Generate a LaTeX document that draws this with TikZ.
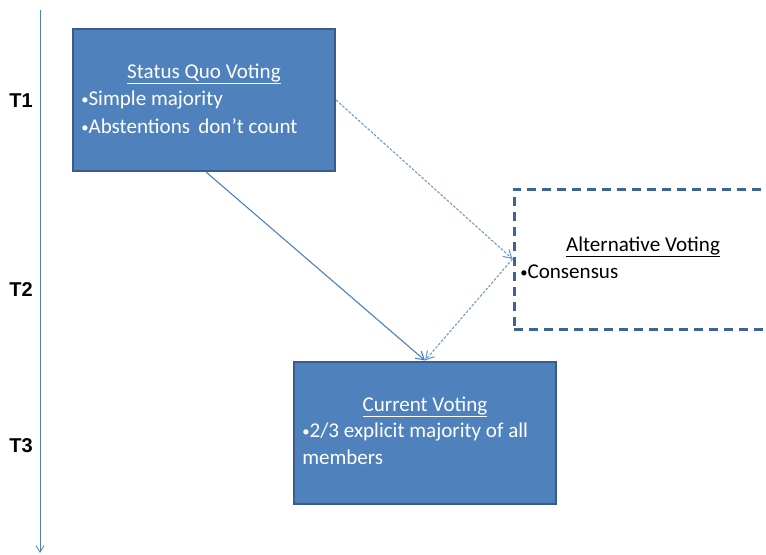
\documentclass[tikz,border=0pt]{standalone}
\usepackage{fontspec}
\setmainfont{Carlito}
\newfontfamily\tlfont{Liberation Sans}
\usetikzlibrary{arrows.meta}
\definecolor{boxfill}{HTML}{4F81BD}
\definecolor{boxline}{HTML}{385D8A}
\definecolor{altline}{HTML}{3C6496}
\definecolor{conn}{HTML}{4A7EBB}
\newcommand{\bul}{{\fontsize{11}{11}\selectfont\raisebox{0.6pt}{•}}}
\begin{document}
\begin{tikzpicture}[x=0.75pt,y=-0.75pt,
  vbox/.style={draw=boxline, line width=1.5pt, fill=boxfill, minimum width=196.5pt, minimum height=106.5pt, inner sep=0pt},
  altbox/.style={draw=altline, line width=2.25pt, dash pattern=on 6.75pt off 4.5pt, fill=white, minimum width=192pt, minimum height=105pt, inner sep=0pt},
  txt/.style={inner sep=0pt, font=\fontsize{15.8}{19}\selectfont},
  wtxt/.style={txt, text=white},
  btxt/.style={txt, text=black},
  tlab/.style={inner sep=0pt, font=\tlfont\bfseries\fontsize{15}{18}\selectfont},
  solidarrow/.style={draw=conn, line width=0.8pt, -{Straight Barb[length=6pt,width=7pt]}},
  dotarrow/.style={draw=conn!80, line width=0.8pt, dash pattern=on 2pt off 1.2pt, -{Straight Barb[length=6pt,width=7pt]}},
  timeline/.style={draw=boxfill, line width=0.6pt, -{Straight Barb[length=5pt,width=6pt]}}
]
\useasboundingbox (0,0) rectangle (766,554);
\clip (0,0) rectangle (766,554);

% timeline
\coordinate (tltop) at (40,10);
\coordinate (tlbot) at (40,553);
\draw[timeline] (tltop) -- (tlbot);
\node[tlab] (t1) at (21,101) {T1};
\node[tlab] (t2) at (21,290) {T2};
\node[tlab] (t3) at (21,446) {T3};

% boxes
\node[vbox] (sq) at (204,100) {};
\node[altbox] (alt) at (642,259) {};
\node[vbox] (cur) at (425,432.5) {};

% texts
\node[wtxt] (sqt) at (204,74) {\underline{Status Quo Voting}};
\node[wtxt, anchor=west] (sqb1) at (81,100) {\bul Simple majority};
\node[wtxt, anchor=west] (sqb2) at (81,126) {\bul Abstentions\,\ don’t count};

\node[btxt] (altt) at (643,247) {\underline{Alternative Voting}};
\node[btxt, anchor=west] (altb1) at (520,272) {\bul Consensus};

\node[wtxt] (curt) at (425,407) {\underline{Current Voting}};
\node[wtxt, anchor=west] (curb1) at (302,432) {\bul 2/3 explicit majority of all};
\node[wtxt, anchor=west] (curb2) at (302,457) {members};

% connectors
\draw[solidarrow] (sq.south) ++(2,0) coordinate (sqs) (sqs) -- (cur.north);
\draw[dotarrow] (sq.east) -- (alt.west);
\draw[dotarrow] (alt.west) -- (cur.north);
\end{tikzpicture}
\end{document}
